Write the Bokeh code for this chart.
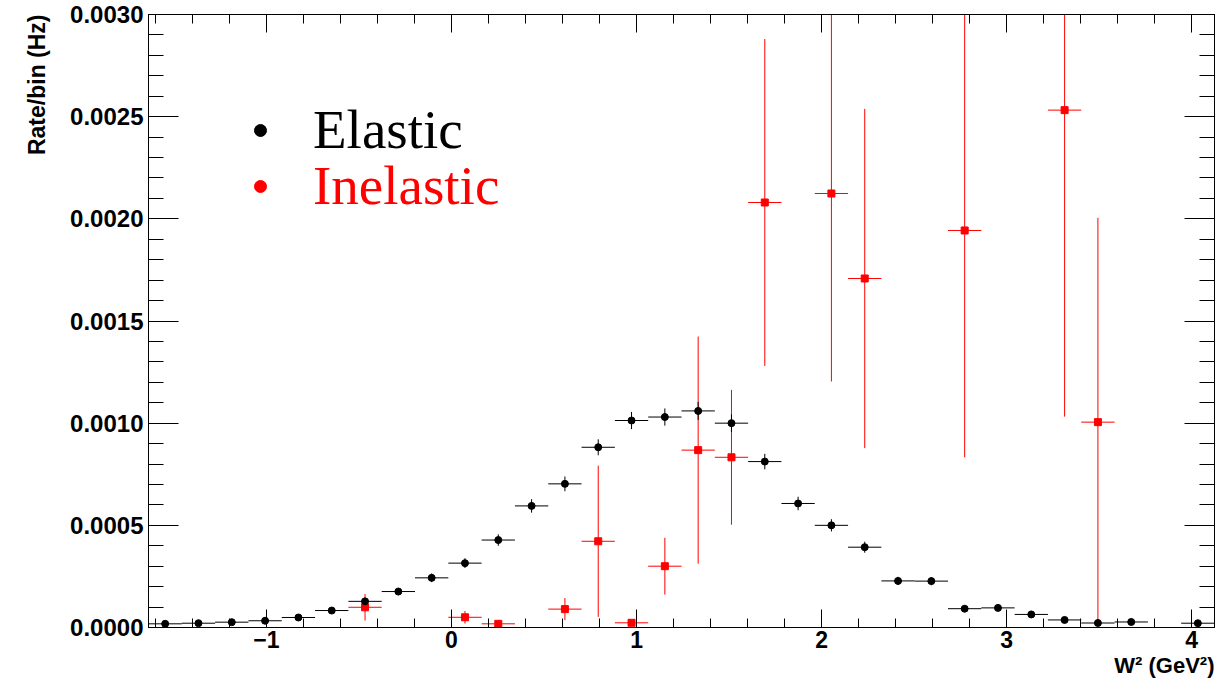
import numpy as np
from bokeh.plotting import figure
from bokeh.models import (Range1d, LinearAxis, SingleIntervalTicker, PrintfTickFormatter,
                          CustomJSTickFormatter, Legend, LegendItem, ColumnDataSource, Title)
from bokeh.embed import file_html
from bokeh.resources import INLINE

nan = float("nan")

# ---- data ----
bin_centers = [-1.547, -1.367, -1.187, -1.007, -0.827, -0.647, -0.467, -0.287,
               -0.107, 0.073, 0.253, 0.433, 0.613, 0.793, 0.973, 1.153,
               1.333, 1.513, 1.693, 1.873, 2.053, 2.233, 2.413, 2.593,
               2.773, 2.953, 3.133, 3.313, 3.493, 3.673, 3.853, 4.033]
bin_half_width = 0.09

elastic_rate = [1.8e-5, 2.1e-5, 2.6e-5, 3.3e-5, 4.9e-5, 8.3e-5, 1.28e-4, 1.76e-4,
                2.43e-4, 3.15e-4, 4.28e-4, 5.95e-4, 7.03e-4, 8.82e-4, 1.013e-3, 1.03e-3,
                1.06e-3, 1.0e-3, 8.12e-4, 6.07e-4, 5.0e-4, 3.93e-4, 2.28e-4, 2.27e-4,
                9.2e-5, 9.6e-5, 6.4e-5, 3.7e-5, 2.2e-5, 2.7e-5, nan, 2.1e-5]
elastic_err = [6e-6, 6e-6, 7e-6, 8e-6, 9e-6, 1.2e-5, 1.5e-5, 1.8e-5,
               2.1e-5, 2.4e-5, 2.8e-5, 3.3e-5, 3.6e-5, 3.9e-5, 4.2e-5, 4.2e-5,
               4.4e-5, 4.3e-5, 3.8e-5, 3.3e-5, 3.0e-5, 2.7e-5, 2.0e-5, 2.0e-5,
               1.3e-5, 1.3e-5, 1.1e-5, 8e-6, 6e-6, 7e-6, nan, 6e-6]

inelastic_rate = [nan, nan, nan, nan, nan, nan, 9.9e-5, nan,
                  nan, 5.0e-5, 1.8e-5, nan, 9.0e-5, 4.22e-4, 2.3e-5, 3.0e-4,
                  8.68e-4, 8.33e-4, 2.08e-3, nan, 2.124e-3, 1.708e-3, nan, nan,
                  1.943e-3, nan, nan, 2.532e-3, 1.005e-3, nan, nan, nan]
inelastic_err = [nan, nan, nan, nan, nan, nan, 6.5e-5, nan,
                 nan, 3.1e-5, 8e-6, nan, 5.4e-5, 3.7e-4, 1.0e-5, 1.39e-4,
                 5.56e-4, 3.3e-4, 8.0e-4, nan, 9.2e-4, 8.3e-4, nan, nan,
                 1.11e-3, nan, nan, 1.5e-3, 1.0e-3, nan, nan, nan]

x_tick_labels = {-1: "\u22121", 0: "0", 1: "1", 2: "2", 3: "3", 4: "4"}
series_names = ["Elastic", "Inelastic"]
x_title = "W\u00b2 (GeV\u00b2)"
y_title = "Rate/bin (Hz)"


def make_source(centers, rate, err):
    c = np.array(centers, dtype=float)
    r = np.array(rate, dtype=float)
    e = np.array(err, dtype=float)
    return ColumnDataSource(dict(x=c, y=r, x0=c - bin_half_width, x1=c + bin_half_width,
                                 y0=r - e, y1=r + e))


el_src = make_source(bin_centers, elastic_rate, elastic_err)
in_src = make_source(bin_centers, inelastic_rate, inelastic_err)

p = figure(width=1224, height=681, output_backend="svg", toolbar_location=None,
           x_range=Range1d(-1.637, 4.123), y_range=Range1d(0, 0.0030000001),
           min_border_left=148, min_border_right=10, min_border_top=14, min_border_bottom=54)
p.xgrid.visible = False
p.ygrid.visible = False
p.outline_line_color = "black"
p.outline_line_width = 1
p.background_fill_color = "white"
p.border_fill_color = "white"

LABEL_FONT = "Liberation Sans"


def style_axis(ax, major_in, minor_in, size):
    ax.major_tick_in = major_in
    ax.major_tick_out = 0
    ax.minor_tick_in = minor_in
    ax.minor_tick_out = 0
    ax.axis_line_color = "black"
    ax.axis_line_width = 1
    ax.major_tick_line_color = "black"
    ax.minor_tick_line_color = "black"
    ax.major_label_text_font = LABEL_FONT
    ax.major_label_text_font_style = "bold"
    ax.major_label_text_font_size = size
    ax.major_label_text_color = "black"


xt = SingleIntervalTicker(interval=1, num_minor_ticks=5)
yt = SingleIntervalTicker(interval=0.0005, num_minor_ticks=5)

xa = p.xaxis[0]
xa.ticker = xt
xa.major_label_overrides = x_tick_labels
xa.major_label_standoff = 3
style_axis(xa, 18, 9, "23px")

ya = p.yaxis[0]
ya.ticker = yt
ya.formatter = PrintfTickFormatter(format="%.4f")
ya.major_label_standoff = 5
style_axis(ya, 30, 15, "24px")

blank = CustomJSTickFormatter(code="return ''")
top = LinearAxis(ticker=xt, formatter=blank)
style_axis(top, 18, 9, "23px")
p.add_layout(top, "above")
right = LinearAxis(ticker=yt, formatter=blank)
style_axis(right, 30, 15, "24px")
p.add_layout(right, "right")

# inelastic (red)
p.segment(x0="x0", x1="x1", y0="y", y1="y", source=in_src, line_color="red", line_width=1)
p.segment(x0="x", x1="x", y0="y0", y1="y1", source=in_src, line_color="red", line_width=1)
in_pts = p.scatter("x", "y", source=in_src, marker="square", size=7, fill_color="red", line_color="red")
in_leg = p.scatter("x", "y", source=in_src, marker="circle", size=7, fill_color="red",
                   line_color="red", visible=False)

# elastic (black)
p.segment(x0="x0", x1="x1", y0="y", y1="y", source=el_src, line_color="black", line_width=1)
p.segment(x0="x", x1="x", y0="y0", y1="y1", source=el_src, line_color="black", line_width=1)
el_pts = p.scatter("x", "y", source=el_src, marker="circle", size=7, fill_color="black", line_color="black")


def make_legend(name, rend, color, loc):
    leg = Legend(items=[LegendItem(label=name, renderers=[rend])], location=loc,
                 border_line_color=None, background_fill_alpha=0, padding=0, margin=0, spacing=0,
                 glyph_width=30, glyph_height=30, label_standoff=38,
                 label_text_font="Liberation Serif", label_text_font_size="55px",
                 label_text_color=color)
    p.add_layout(leg)


make_legend(series_names[0], el_pts, "black", (97, 466))
make_legend(series_names[1], in_leg, "red", (97, 410))

p.add_layout(Title(text=y_title, align="right", text_font=LABEL_FONT, text_font_style="bold",
                   text_font_size="23px", text_color="black", standoff=36), "left")
p.add_layout(Title(text=x_title, align="right", text_font=LABEL_FONT, text_font_style="bold",
                   text_font_size="22px", text_color="black", standoff=0), "below")

open("out.html", "w").write(file_html(p, INLINE))
